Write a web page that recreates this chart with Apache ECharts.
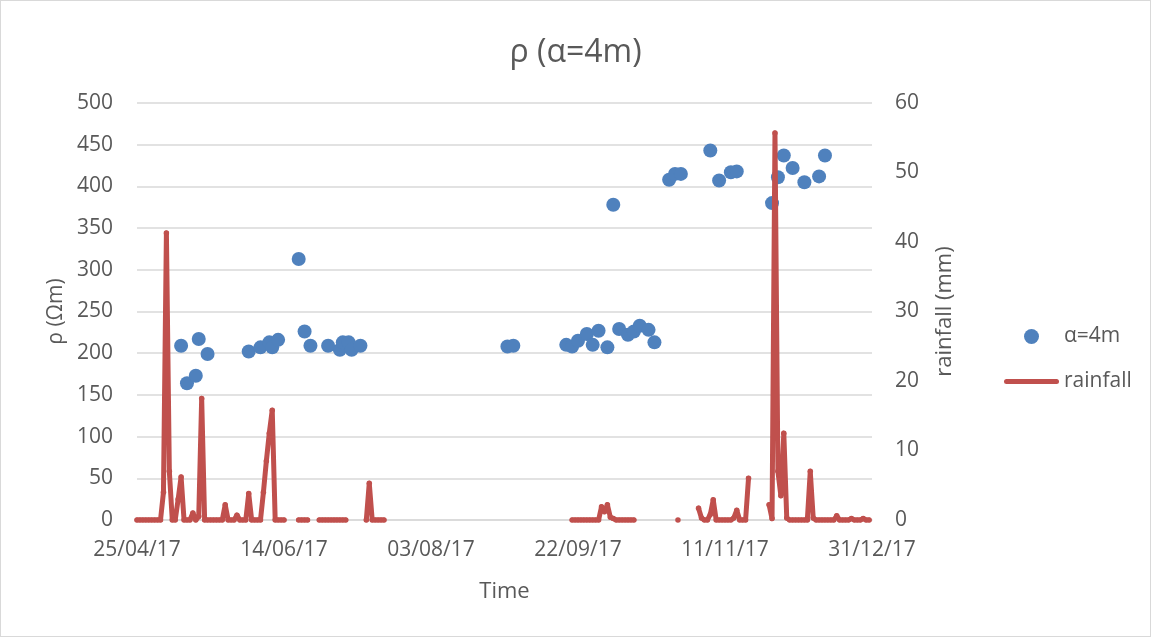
<!DOCTYPE html>
<html>
<head>
<meta charset="utf-8">
<script src="https://cdn.jsdelivr.net/npm/echarts@6/dist/echarts.min.js"></script>
<style>
html, body { margin: 0; padding: 0; background: #fff; }
#chart { width: 1151px; height: 637px; }
#frame { position: absolute; left: 0; top: 0; width: 1149px; height: 635px; border: 1px solid #d9d9d9; pointer-events: none; }
</style>
</head>
<body>
<div id="chart"></div>
<div id="frame"></div>
<script>
// resistivity (alpha = 4m) measurements
const rhoDates = [
  '2017-05-10', '2017-05-12', '2017-05-15', '2017-05-16', '2017-05-19',
  '2017-06-02', '2017-06-06', '2017-06-09', '2017-06-10', '2017-06-12',
  '2017-06-19', '2017-06-21', '2017-06-23', '2017-06-29', '2017-07-03',
  '2017-07-04', '2017-07-06', '2017-07-07', '2017-07-10',
  '2017-08-29', '2017-08-31',
  '2017-09-18', '2017-09-20', '2017-09-22', '2017-09-25', '2017-09-27',
  '2017-09-29', '2017-10-02', '2017-10-04', '2017-10-06', '2017-10-09',
  '2017-10-11', '2017-10-13', '2017-10-16', '2017-10-18',
  '2017-10-23', '2017-10-25', '2017-10-27', '2017-11-06', '2017-11-09',
  '2017-11-13', '2017-11-15', '2017-11-27', '2017-11-29', '2017-12-01',
  '2017-12-04', '2017-12-08', '2017-12-13', '2017-12-15'
];
const rhoValues = [
  209, 164, 173, 217, 199,
  202, 207, 213, 207, 216,
  313, 226, 209, 209, 204,
  213, 213, 204, 209,
  208, 209,
  210, 208, 215, 223, 210,
  227, 207, 378, 229, 222,
  226, 233, 228, 213,
  408, 415, 415, 443, 407,
  417, 418, 380, 411, 437,
  422, 405, 412, 437
];

// daily rainfall (mm), recorded in runs of consecutive days
const rainStarts = ['2017-04-25', '2017-06-19', '2017-06-26', '2017-07-12', '2017-09-20', '2017-10-26', '2017-11-02', '2017-11-26'];
const rainRuns = [
  [0, 0, 0, 0, 0, 0, 0, 0, 0, 4, 41.3, 7, 0, 0, 3, 6.2, 0, 0, 0, 1, 0, 0.5, 17.5,
   0, 0, 0, 0, 0, 0, 0, 2.2, 0, 0, 0, 0.7, 0, 0, 0, 3.8, 0, 0, 0, 0, 4, 8.5, 12.5, 15.8, 0, 0, 0, 0],
  [0, 0, 0, 0],
  [0, 0, 0, 0, 0, 0, 0, 0, 0, 0],
  [0, 5.3, 0, 0, 0, 0, 0],
  [0, 0, 0, 0, 0, 0, 0, 0, 0, 0, 1.9, 1.2, 2.2, 0.4, 0.2, 0, 0, 0, 0, 0, 0, 0],
  [0],
  [1.7, 0.3, 0, 0, 0.8, 2.9, 0, 0, 0, 0, 0, 0, 0.3, 1.4, 0, 0, 0, 6],
  [2.2, 0.2, 55.7, 7, 3.5, 12.5, 0.3, 0, 0, 0, 0, 0, 0, 0, 7, 0.3,
   0, 0, 0, 0, 0, 0, 0, 0.6, 0, 0, 0, 0, 0.2, 0, 0, 0, 0.2, 0, 0]
];

const xTicks = ['25/04/17', '14/06/17', '03/08/17', '22/09/17', '11/11/17', '31/12/17'];

const START = Date.UTC(2017, 3, 25);
const DAY = 86400000;
const dayOf = s => Math.round((Date.parse(s + 'T00:00:00Z') - START) / DAY);

const scatterData = rhoDates.map((d, i) => [dayOf(d), rhoValues[i]]);

const rainData = [];
rainStarts.forEach((s, k) => {
  const d0 = dayOf(s);
  if (rainData.length) rainData.push([d0 - 1, null]);
  rainRuns[k].forEach((v, j) => rainData.push([d0 + j, v]));
});

const FONT = '"Open Sans", "Noto Sans", sans-serif';
const TXT = '#595959';
const GRID = '#d9d9d9';

const option = {
  animation: false,
  textStyle: { fontFamily: FONT },
  title: {
    text: 'ρ (α=4m)', left: 'center', top: 32,
    textStyle: { fontFamily: FONT, fontSize: 32, fontWeight: 'normal', color: TXT }
  },
  legend: {
    orient: 'vertical', left: 999, top: 321,
    itemWidth: 55, itemHeight: 15, itemGap: 24,
    textStyle: { fontFamily: FONT, fontSize: 21, color: TXT },
    data: [
      { name: 'α=4m', icon: 'circle' },
      { name: 'rainfall', icon: 'path://M2.5,0H52.5A2.5,2.5,0,0,1,52.5,5H2.5A2.5,2.5,0,0,1,2.5,0Z' }
    ]
  },
  grid: { left: 137, right: 279, top: 103, bottom: 117 },
  xAxis: {
    type: 'value', min: 0, max: 250, interval: 50,
    name: 'Time', nameLocation: 'middle', nameGap: 61,
    nameTextStyle: { fontFamily: FONT, fontSize: 22, color: TXT },
    axisLine: { lineStyle: { color: GRID, width: 1.5 } },
    axisTick: { show: false },
    splitLine: { show: false },
    axisLabel: {
      fontFamily: FONT, fontSize: 21, color: TXT, margin: 20,
      formatter: v => xTicks[Math.round(v / 50)]
    }
  },
  yAxis: [
    {
      type: 'value', min: 0, max: 500, interval: 50,
      name: 'ρ (Ωm)', nameLocation: 'middle', nameGap: 70, nameRotate: 90,
      nameTextStyle: { fontFamily: FONT, fontSize: 21, color: TXT },
      axisLine: { show: false }, axisTick: { show: false },
      axisLabel: { fontFamily: FONT, fontSize: 21, color: TXT, margin: 24 },
      splitLine: { lineStyle: { color: GRID, width: 1.5 } }
    },
    {
      type: 'value', min: 0, max: 60, interval: 10, position: 'right',
      name: 'rainfall (mm)', nameLocation: 'middle', nameGap: 62, nameRotate: 90,
      nameTextStyle: { fontFamily: FONT, fontSize: 22, color: TXT },
      axisLine: { show: false }, axisTick: { show: false },
      axisLabel: { fontFamily: FONT, fontSize: 21, color: TXT, margin: 23 },
      splitLine: { show: false }
    }
  ],
  series: [
    {
      name: 'α=4m', type: 'scatter', yAxisIndex: 0,
      symbol: 'circle', symbolSize: 14,
      itemStyle: { color: '#4F81BD', opacity: 1 },
      data: scatterData
    },
    {
      name: 'rainfall', type: 'line', yAxisIndex: 1,
      connectNulls: false,
      showSymbol: true, symbol: 'circle', symbolSize: 5.5,
      itemStyle: { color: '#C0504D', borderWidth: 0 },
      lineStyle: { color: '#C0504D', width: 5, cap: 'round', join: 'round' },
      data: rainData
    }
  ]
};

const chart = echarts.init(document.getElementById('chart'));
chart.setOption(option);
window.addEventListener('resize', () => chart.resize());
</script>
</body>
</html>
